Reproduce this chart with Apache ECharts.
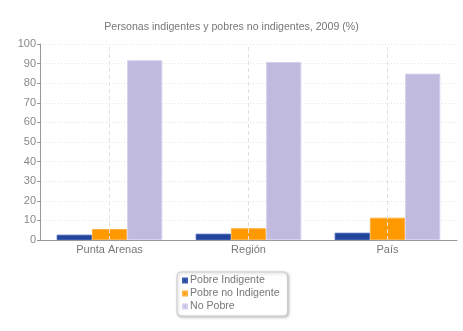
<!DOCTYPE html>
<html><head><meta charset="utf-8">
<script src="https://cdn.jsdelivr.net/npm/echarts@6/dist/echarts.min.js"></script>
<style>html,body{margin:0;padding:0;background:#fff}#c{width:463px;height:331px}</style>
</head><body><div id="c"></div>
<script>
const categories = ['Punta Arenas', 'Región', 'País'];
const seriesNames = ['Pobre Indigente', 'Pobre no Indigente', 'No Pobre'];
const pobreIndigente = [2.7, 3.2, 3.7];
const pobreNoIndigente = [5.6, 6.0, 11.4];
const noPobre = [91.7, 90.8, 84.9];
const yTicks = [0, 10, 20, 30, 40, 50, 60, 70, 80, 90, 100];
const titleText = 'Personas indigentes y pobres no indigentes, 2009 (%)';

const FONT = 'Liberation Sans';
const colors = ['#22449a', '#ff9900', '#c1badf'];
const borders = ['#3a5ab0', '#ffb040', '#d6d0ee'];
const values = [pobreIndigente, pobreNoIndigente, noPobre];

const series = seriesNames.map((n, i) => ({
  name: n, type: 'bar', data: values[i],
  barGap: '0%', barCategoryGap: '24%',
  itemStyle: {color: colors[i], borderColor: borders[i], borderWidth: 1},
  z: 3
}));
series.push({
  name: 'grid-v', type: 'line', data: [], silent: true,
  markLine: {
    silent: true, symbol: 'none', label: {show: false},
    lineStyle: {color: '#e0e0e0', type: [4, 3], width: 1},
    data: categories.map(c => ({xAxis: c}))
  },
  z: 1
});

const chart = echarts.init(document.getElementById('c'), null, {renderer: 'canvas'});
chart.setOption({
  animation: false,
  backgroundColor: '#fff',
  title: {
    text: titleText, left: 'center', top: 17,
    textStyle: {fontFamily: FONT, fontSize: 10.6, fontWeight: 'normal', color: '#777'}
  },
  legend: {
    orient: 'vertical', left: 177, top: 272,
    data: seriesNames,
    itemWidth: 4, itemHeight: 4, itemGap: 2,
    padding: [3, 8, 4, 5],
    backgroundColor: '#fff', borderColor: '#ccc', borderWidth: 1, borderRadius: 4,
    shadowBlur: 3, shadowColor: 'rgba(0,0,0,0.25)', shadowOffsetX: 1, shadowOffsetY: 1,
    icon: 'rect',
    textStyle: {fontFamily: FONT, fontSize: 10.6, color: '#777', padding: [0, 0, 0, -2]}
  },
  grid: {left: 40, right: 6, top: 44, bottom: 91},
  xAxis: {
    type: 'category', data: categories,
    axisLine: {lineStyle: {color: '#999', width: 1}},
    axisTick: {show: false},
    axisLabel: {fontFamily: FONT, fontSize: 11, color: '#777', margin: 4},
    splitLine: {show: false}
  },
  yAxis: {
    type: 'value', min: 0, max: 100, interval: 10,
    axisLine: {show: true, lineStyle: {color: '#999'}},
    axisTick: {show: true, length: 3, lineStyle: {color: '#999'}},
    axisLabel: {fontFamily: FONT, fontSize: 11, color: '#888', margin: 4,
      formatter: v => yTicks.includes(v) ? String(v) : ''},
    splitLine: {show: true, lineStyle: {color: '#e4e4e4', type: [1, 2]}}
  },
  series: series
});
</script></body></html>
